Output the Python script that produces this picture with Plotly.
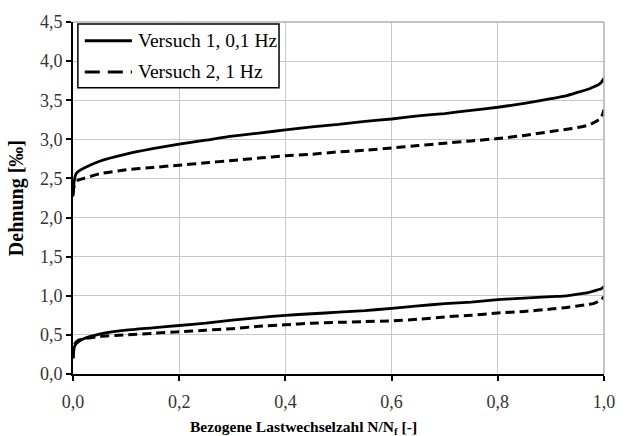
import plotly.graph_objects as go

x_rel = [0.0, 0.002, 0.005, 0.01, 0.02, 0.05, 0.1, 0.15, 0.2, 0.25, 0.3, 0.35, 0.4, 0.45, 0.5,
         0.55, 0.6, 0.65, 0.7, 0.75, 0.8, 0.85, 0.9, 0.93, 0.95, 0.97, 0.98, 0.99, 0.995, 1.0]

v1_upper = [2.27, 2.45, 2.55, 2.59, 2.63, 2.72, 2.81, 2.88, 2.94, 2.99, 3.04, 3.08, 3.12, 3.16, 3.19,
            3.23, 3.26, 3.3, 3.33, 3.37, 3.41, 3.46, 3.52, 3.56, 3.6, 3.64, 3.67, 3.7, 3.73, 3.78]
v2_upper = [2.3, 2.4, 2.45, 2.48, 2.5, 2.56, 2.61, 2.64, 2.67, 2.7, 2.73, 2.76, 2.79, 2.81, 2.84,
            2.86, 2.89, 2.92, 2.95, 2.98, 3.01, 3.05, 3.1, 3.13, 3.15, 3.18, 3.21, 3.25, 3.28, 3.38]
v1_lower = [0.2, 0.33, 0.38, 0.41, 0.45, 0.51, 0.56, 0.59, 0.62, 0.65, 0.69, 0.72, 0.75, 0.77, 0.79,
            0.81, 0.84, 0.87, 0.9, 0.92, 0.95, 0.97, 0.99, 1.0, 1.02, 1.04, 1.06, 1.08, 1.09, 1.12]
v2_lower = [0.2, 0.35, 0.4, 0.43, 0.45, 0.48, 0.5, 0.52, 0.54, 0.56, 0.58, 0.61, 0.63, 0.65, 0.66,
            0.67, 0.68, 0.7, 0.73, 0.75, 0.78, 0.8, 0.83, 0.85, 0.87, 0.89, 0.9, 0.93, 0.95, 0.99]

x_ticks = [0.0, 0.2, 0.4, 0.6, 0.8, 1.0]
x_tick_labels = ["0,0", "0,2", "0,4", "0,6", "0,8", "1,0"]
y_ticks = [0.0, 0.5, 1.0, 1.5, 2.0, 2.5, 3.0, 3.5, 4.0, 4.5]
y_tick_labels = ["0,0", "0,5", "1,0", "1,5", "2,0", "2,5", "3,0", "3,5", "4,0", "4,5"]

name1 = "Versuch 1, 0,1 Hz"
name2 = "Versuch 2, 1 Hz"
x_title = "<b>Bezogene Lastwechselzahl N/N<sub>f</sub> [-]</b>"
y_title = "<b>Dehnung [‰]</b>"

FONT = "Liberation Serif"
solid = dict(color="black", width=2.8, shape="spline", smoothing=0.6)
dashed = dict(color="black", width=3, dash="9px,5px", shape="spline", smoothing=0.6)

fig = go.Figure()
fig.add_trace(go.Scatter(x=x_rel, y=v1_upper, mode="lines", line=solid, name=name1, showlegend=False))
fig.add_trace(go.Scatter(x=x_rel, y=v2_upper, mode="lines", line=dashed, name=name2, showlegend=False))
fig.add_trace(go.Scatter(x=x_rel, y=v1_lower, mode="lines", line=solid, name=name1, showlegend=False))
fig.add_trace(go.Scatter(x=x_rel, y=v2_lower, mode="lines", line=dashed, name=name2, showlegend=False))

fig.update_layout(
    width=627, height=436,
    margin=dict(l=73, r=13, t=16, b=62),
    paper_bgcolor="white", plot_bgcolor="white",
    font=dict(family=FONT, size=18, color="#333333"),
    showlegend=False,
)
fig.update_xaxes(range=[0, 1.0], tickvals=x_ticks, ticktext=x_tick_labels,
                 showgrid=True, gridcolor="#c8c8c8", gridwidth=1,
                 showline=True, linecolor="black", linewidth=2,
                 ticks="outside", ticklen=5, tickwidth=2, tickcolor="black",
                 ticklabelstandoff=5, zeroline=False)
fig.update_yaxes(range=[0, 4.5], tickvals=y_ticks, ticktext=y_tick_labels,
                 showgrid=True, gridcolor="#c8c8c8", gridwidth=1,
                 showline=True, linecolor="black", linewidth=2,
                 ticks="outside", ticklen=5, tickwidth=2, tickcolor="black",
                 zeroline=False)
fig.add_annotation(text=x_title, xref="paper", yref="paper", x=0.434, y=-0.152,
                   xanchor="center", yanchor="middle", showarrow=False,
                   font=dict(family=FONT, size=15.5, color="black"))
fig.add_annotation(text=y_title, xref="paper", yref="paper", x=-0.107, y=0.5,
                   xanchor="center", yanchor="middle", showarrow=False, textangle=-90,
                   font=dict(family=FONT, size=20, color="black"))
# grey frame on top and right
fig.add_shape(type="line", xref="paper", yref="paper", x0=0, x1=1, y0=1, y1=1,
              line=dict(color="#b0b0b0", width=1.5))
fig.add_shape(type="line", xref="paper", yref="paper", x0=1, x1=1, y0=0, y1=1,
              line=dict(color="#b0b0b0", width=1.5))

# legend box
fig.add_shape(type="rect", xref="paper", yref="paper", x0=0.0092, x1=0.388, y0=0.813, y1=0.994,
              line=dict(color="black", width=1.5), fillcolor="white", layer="above")
legend_rows = [(name1, 0.947, dict(color="black", width=3)),
               (name2, 0.858, dict(color="black", width=3, dash="15px,8px"))]
for label, ly, lstyle in legend_rows:
    fig.add_shape(type="line", xref="paper", yref="paper", x0=0.0222, x1=0.111, y0=ly, y1=ly,
                  line=lstyle, layer="above")
    fig.add_annotation(text=label, xref="paper", yref="paper", x=0.118, y=ly,
                       xanchor="left", yanchor="middle", showarrow=False,
                       font=dict(family=FONT, size=19.5, color="black"))

fig.write_html("out.html")
